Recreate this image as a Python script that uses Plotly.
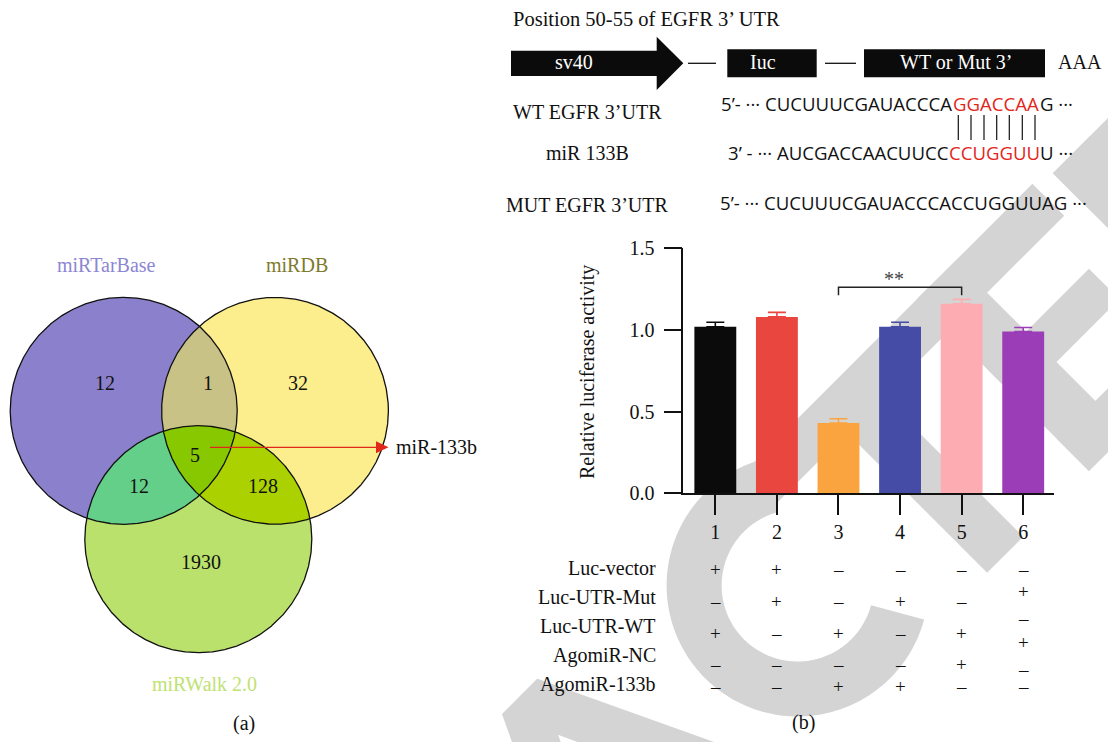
import numpy as np
import plotly.graph_objects as go

W, H = 1108, 742
SERIF = "Liberation Serif"
SANS = "Open Sans"
INK = "#111111"
SEQ_RED = "#e3261c"

# ---------------- panel (a): overlap of predicted target databases ----------------
set_names = ["miRTarBase", "miRDB", "miRWalk 2.0"]
set_fill = ["#8a80cc", "#fcee8c", "#b9e16b"]
set_label_color = ["#8c86d3", "#7e7a2e", "#c0e272"]
region_keys = ["A", "AB", "B", "ABC", "AC", "BC", "C"]
region_counts = [12, 1, 32, 5, 12, 128, 1930]
overlap_fill = {"AB": "#c8c286", "AC": "#63cf89", "BC": "#abd200", "ABC": "#87c800"}
highlight_mirna = "miR-133b"

# ---------------- panel (b): dual-luciferase reporter assay ----------------
groups = ["1", "2", "3", "4", "5", "6"]
rel_activity = [1.02, 1.08, 0.43, 1.02, 1.16, 0.99]
activity_err = [0.027, 0.028, 0.026, 0.027, 0.027, 0.025]
bar_colors = ["#0b0b0b", "#e8463e", "#faa43f", "#454ca6", "#fdadb2", "#9b3db6"]
y_ticks = [0.0, 0.5, 1.0, 1.5]
treatments = ["Luc-vector", "Luc-UTR-Mut", "Luc-UTR-WT", "AgomiR-NC", "AgomiR-133b"]
treatment_signs = [
    ["+", "–", "+", "–", "–"],
    ["+", "+", "–", "–", "–"],
    ["–", "–", "+", "–", "+"],
    ["–", "+", "–", "–", "+"],
    ["–", "–", "+", "+", "–"],
    ["–", "+", "–", "+", "–", "–"],
]
significance = ("**", 2, 4)

# ---------------- reporter construct and binding site ----------------
construct_title = "Position 50-55 of EGFR 3’ UTR"
seq_rows = ["WT EGFR 3’UTR", "miR 133B", "MUT EGFR 3’UTR"]
wt_seq = ("5’- ··· CUCUUUCGAUACCCA", "GGACCAA", "G ···")
mir_seq = ("3’ - ··· AUCGACCAACUUCC", "CCUGGUU", "U ···")
mut_seq = "5’- ··· CUCUUUCGAUACCCACCUGGUUAG ···"

# ================= layout geometry (pixel frame, y downward) =================
venn_circles = {"A": ((123.7, 410.8), 113.5), "B": ((275.0, 410.8), 113.4),
                "C": ((198.3, 539.2), 113.5)}
region_label_xy = {"A": (105, 383), "AB": (208, 383), "B": (298, 383), "ABC": (195, 455),
                   "AC": (139, 486), "BC": (263, 486), "C": (201, 562)}
set_label_xy = [(106, 265), (297, 265), (204, 684)]

fig = go.Figure()


def circle_pts(c, r, n=1440):
    t = np.linspace(0, 2 * np.pi, n, endpoint=False)
    return np.c_[c[0] + r * np.cos(t), c[1] + r * np.sin(t)]


def region_polygon(keys):
    circles = [venn_circles[k] for k in keys]
    pts = []
    for i, (c, r) in enumerate(circles):
        p = circle_pts(c, r, 3000)
        keep = np.ones(len(p), bool)
        for j, (c2, r2) in enumerate(circles):
            if j != i:
                keep &= (p[:, 0] - c2[0]) ** 2 + (p[:, 1] - c2[1]) ** 2 <= r2 * r2
        pts.append(p[keep])
    pts = np.vstack(pts)
    ctr = pts.mean(axis=0)
    order = np.argsort(np.arctan2(pts[:, 1] - ctr[1], pts[:, 0] - ctr[0]))
    pts = pts[order]
    return np.vstack([pts, pts[:1]])


def add_fill(poly, color):
    fig.add_trace(go.Scatter(x=poly[:, 0], y=poly[:, 1], xaxis="x2", yaxis="y2",
                             mode="lines", fill="toself", fillcolor=color,
                             line=dict(width=0), hoverinfo="skip", showlegend=False))


for key, color in zip(["A", "B", "C"], set_fill):
    c, r = venn_circles[key]
    p = circle_pts(c, r)
    add_fill(np.vstack([p, p[:1]]), color)
for key in ["AB", "AC", "BC", "ABC"]:
    add_fill(region_polygon(list(key)), overlap_fill[key])
for key in ["A", "B", "C"]:
    c, r = venn_circles[key]
    p = circle_pts(c, r)
    p = np.vstack([p, p[:1]])
    fig.add_trace(go.Scatter(x=p[:, 0], y=p[:, 1], xaxis="x2", yaxis="y2", mode="lines",
                             line=dict(color=INK, width=1.3), hoverinfo="skip",
                             showlegend=False))

# ---------------- bars ----------------
for i, (g, v, e, col) in enumerate(zip(groups, rel_activity, activity_err, bar_colors)):
    fig.add_trace(go.Bar(
        x=[i], y=[v], width=0.68, marker=dict(color=col, line=dict(width=0)),
        error_y=dict(type="data", array=[e], arrayminus=[0], symmetric=False,
                     color=col, thickness=1.6, width=9),
        showlegend=False, hoverinfo="skip"))

annotations = []
shapes = []


def px_text(x, y, text, size=20, color=INK, anchor="center", family=SERIF,
            angle=0, xref="x2"):
    annotations.append(dict(x=x, y=y, xref=xref, yref="y2", text=text, showarrow=False,
                            xanchor=anchor, yanchor="middle", textangle=angle,
                            borderpad=0, font=dict(family=family, size=size, color=color)))


# Venn labels
for key, n in zip(region_keys, region_counts):
    x, y = region_label_xy[key]
    px_text(x, y, str(n))
for name, (x, y), col in zip(set_names, set_label_xy, set_label_color):
    px_text(x, y, name, color=col)

# arrow pointing to the shared miRNA
ay = 447.3
shapes.append(dict(type="line", xref="x2", yref="y2", x0=210, y0=ay, x1=380, y1=ay,
                   line=dict(color="#e0281b", width=1.3)))
shapes.append(dict(type="path", xref="x2", yref="y2",
                   path=f"M 376,{ay-6} L 388.5,{ay} L 376,{ay+6} Z",
                   fillcolor="#e0281b", line=dict(width=0)))
px_text(394.5, ay, highlight_mirna, anchor="left")

px_text(243.5, 723, "(a)")
px_text(803, 722, "(b)")

# ---------------- reporter construct ----------------
px_text(511.5, 19, construct_title, anchor="left", size=20.5)
shapes.append(dict(type="path", xref="x2", yref="y2",
                   path="M 511,50.7 L 656.7,50.7 L 656.7,36.7 L 683.3,63.3 L 656.7,90 "
                        "L 656.7,76 L 511,76 Z",
                   fillcolor="#0b0b0b", line=dict(width=0)))
for x0, x1 in [(688, 716), (825, 856)]:
    shapes.append(dict(type="line", xref="x2", yref="y2", x0=x0, y0=63.3, x1=x1, y1=63.3,
                       line=dict(color=INK, width=1.3)))
for x0, x1 in [(727.3, 816.7), (864, 1045)]:
    shapes.append(dict(type="rect", xref="x2", yref="y2", x0=x0, y0=49.3, x1=x1, y1=77.3,
                       fillcolor="#0b0b0b", line=dict(width=0)))
px_text(574, 62, "sv40", color="white")
px_text(763, 62, "Iuc", color="white")
px_text(955.5, 62, "WT or Mut 3’", color="white")
px_text(1080, 62, "AAA")

for label, y in zip(seq_rows, [112, 153, 205]):
    px_text(587, y, label)

SEQ = 18.6
px_text(953, 103.5, wt_seq[0], size=SEQ, family=SANS, anchor="right")
px_text(996, 103.5, wt_seq[1], size=SEQ, family=SANS, color=SEQ_RED)
px_text(1039, 103.5, wt_seq[2], size=SEQ, family=SANS, anchor="left")
px_text(950, 152, mir_seq[0], size=SEQ, family=SANS, anchor="right")
px_text(994.7, 152, mir_seq[1], size=SEQ, family=SANS, color=SEQ_RED)
px_text(1039.3, 152, mir_seq[2], size=SEQ, family=SANS, anchor="left")
px_text(719.3, 202, mut_seq, size=SEQ, family=SANS, anchor="left")
for x in [958.3, 971.0, 984.0, 996.7, 1009.3, 1022.3, 1035.0]:
    shapes.append(dict(type="line", xref="x2", yref="y2", x0=x, y0=115, x1=x, y1=140,
                       line=dict(color=INK, width=1.2)))

# ---------------- bar panel annotations ----------------
px_text(587, 372, "Relative luciferase activity", angle=-90)
for name, y in zip(treatments, [568.3, 597.3, 626, 655, 684]):
    px_text(657, y, name, anchor="right")
five_rows = [569, 601.7, 633.3, 664, 686.7]
six_rows = [569, 591.7, 618.3, 642.7, 669.3, 686.7]
for i, signs in enumerate(treatment_signs):
    rows = five_rows if len(signs) == 5 else six_rows
    for s, y in zip(signs, rows):
        px_text(i, y, s, xref="x", size=19)

star, g0, g1 = significance
shapes.append(dict(type="path", xref="x", yref="y",
                   path=f"M {g0},1.212 L {g0},1.262 L {g1},1.262 L {g1},1.212",
                   line=dict(color="#222222", width=1.5)))
annotations.append(dict(x=2.9, y=1.315, xref="x", yref="y", text=star, showarrow=False,
                        font=dict(family=SERIF, size=20, color="#444444")))

# ---------------- background watermark (rotated block lettering) ----------------
SQ2 = np.sqrt(2.0)
VB, VT = -1103.0, -860.0
WM = "#d4d4d4"


def uv_path(pts):
    out = []
    for k, (u, v) in enumerate(pts):
        x = (u - v) / SQ2
        y = -(u + v) / SQ2
        out.append(("M" if k == 0 else "L") + f"{x / W:.5f},{1 - y / H:.5f}")
    return " ".join(out) + " Z"


def uv_rect(u0, u1, v0, v1):
    return [(u0, v0), (u1, v0), (u1, v1), (u0, v1)]


wm_polys = []
# A
wm_polys.append([(-265, VB), (-212, VB), (-100, VT), (-150, VT)])
wm_polys.append([(-150, VT), (-100, VT), (15, VB), (-38, VB)])
# C
cu, cv, ro, ri = 150.0, -978.0, 131.0, 76.0
phi = np.radians(np.linspace(60, 300, 160))
ring = [(cu + ro * np.cos(a), cv + ro * np.sin(a)) for a in phi]
ring += [(cu + ri * np.cos(a), cv + ri * np.sin(a)) for a in phi[::-1]]
wm_polys.append(ring)
# T
wm_polys.append(uv_rect(183, 455, -905, VT))
wm_polys.append(uv_rect(293, 344, VB, -900))
# E
wm_polys.append(uv_rect(437, 491, VB, VT))
wm_polys.append(uv_rect(437, 600, -905, VT))
wm_polys.append(uv_rect(437, 580, -1003, -960))
wm_polys.append(uv_rect(437, 605, VB, -1058))
# D
wm_polys.append(uv_rect(622, 675, VB, -867))
wm_polys.append(uv_rect(622, 760, -912, -867))
for poly in wm_polys:
    shapes.append(dict(type="path", xref="paper", yref="paper", layer="below",
                       path=uv_path(poly), fillcolor=WM, line=dict(width=0)))

# ---------------- axes ----------------
x_px = (683.3, 1054.0)
y_px = (493.3, 248.3)
fig.update_layout(
    width=W, height=H, margin=dict(l=0, r=0, t=0, b=0, pad=0, autoexpand=False),
    paper_bgcolor="white", plot_bgcolor="rgba(0,0,0,0)",
    showlegend=False, barmode="overlay",
    xaxis=dict(domain=[x_px[0] / W, x_px[1] / W], range=[-0.52, 5.5], anchor="y",
               tickvals=list(range(len(groups))), ticktext=groups,
               showline=True, linecolor=INK, linewidth=1.5, ticks="outside",
               ticklen=20, tickwidth=1.5, tickcolor=INK, showgrid=False, zeroline=False,
               automargin=False,
               tickfont=dict(family=SERIF, size=20, color=INK), fixedrange=True),
    yaxis=dict(domain=[1 - y_px[0] / H, 1 - y_px[1] / H], range=[0, 1.5], anchor="x",
               tickvals=y_ticks, ticktext=[f"{t:.1f}" for t in y_ticks],
               showline=True, linecolor=INK, linewidth=1.5, ticks="outside",
               ticklen=18, tickwidth=1.5, tickcolor=INK, showgrid=False, zeroline=False,
               ticklabelstandoff=5, automargin=False,
               tickfont=dict(family=SERIF, size=20, color=INK), fixedrange=True),
    xaxis2=dict(domain=[0, 1], range=[0, W], anchor="y2", visible=False, fixedrange=True),
    yaxis2=dict(domain=[0, 1], range=[H, 0], anchor="x2", visible=False, fixedrange=True),
    annotations=annotations, shapes=shapes,
)

fig.write_html("out.html")
